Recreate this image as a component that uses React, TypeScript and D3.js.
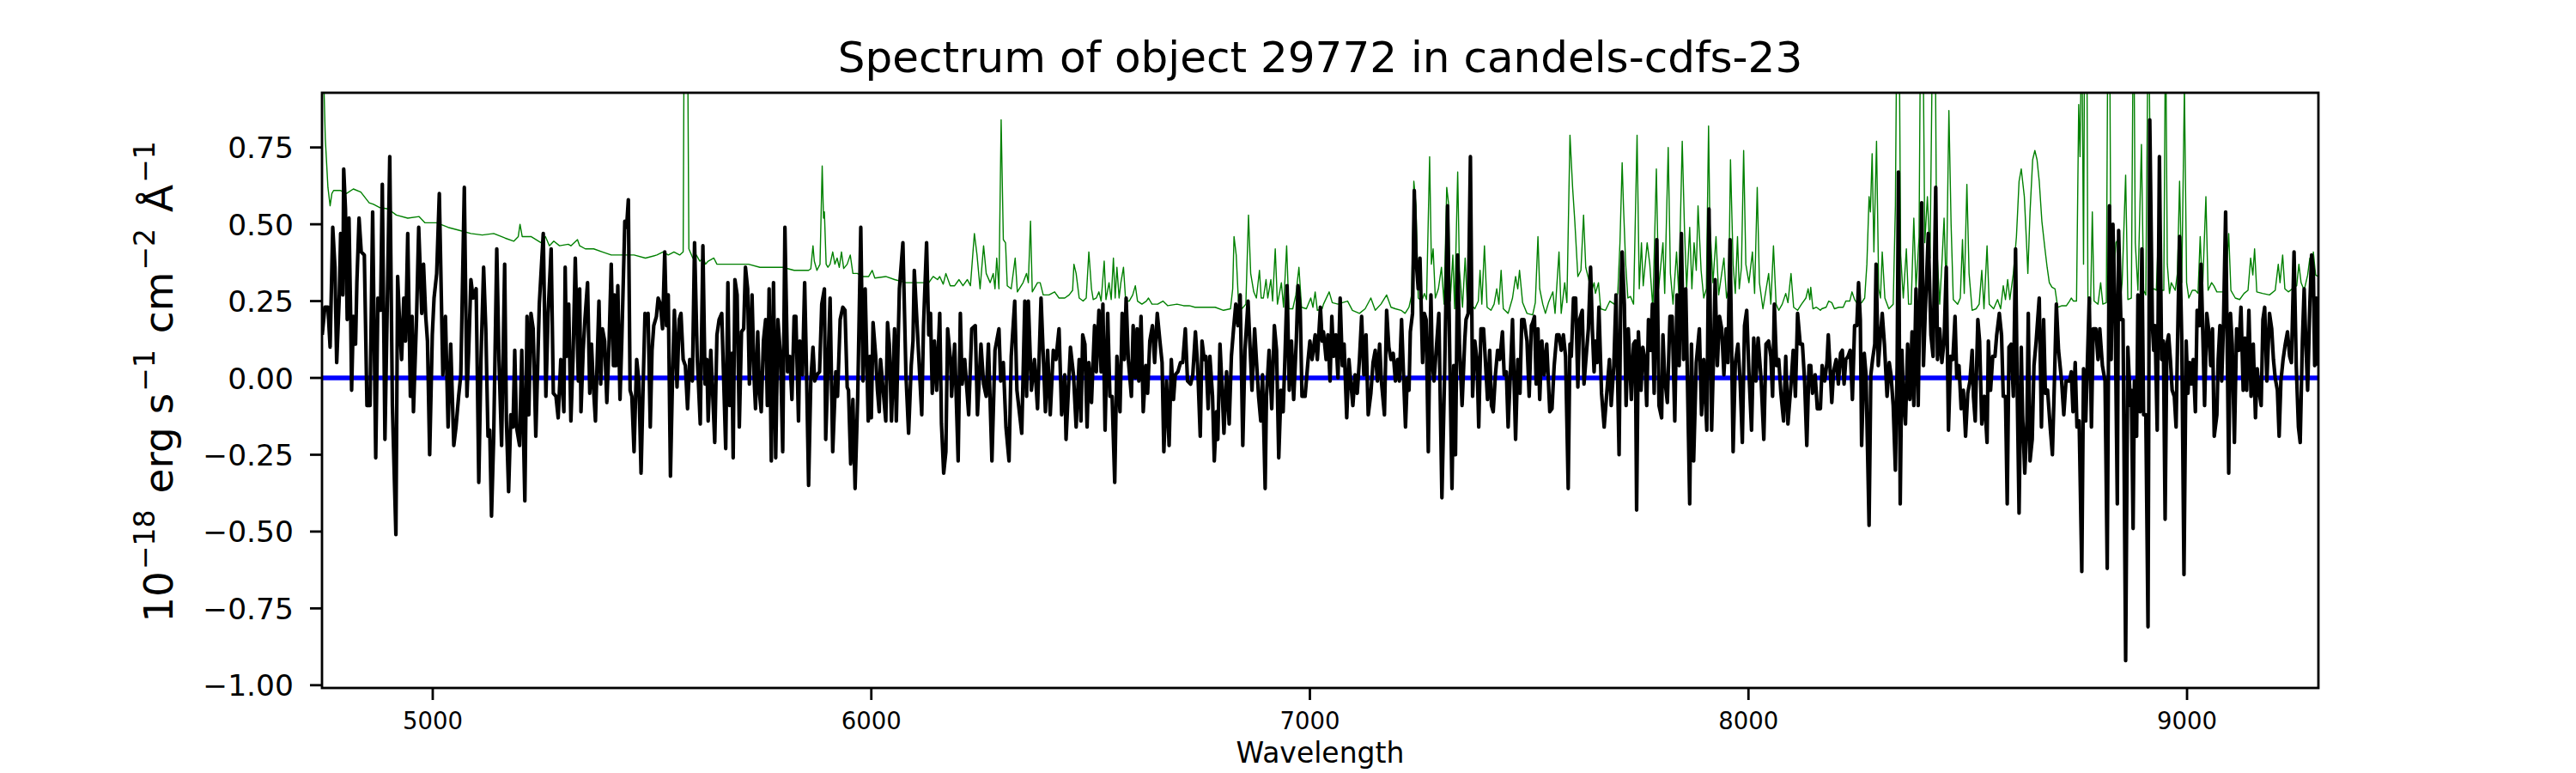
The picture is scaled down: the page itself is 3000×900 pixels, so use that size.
import React from 'react';
import * as d3 from 'd3';

type Pt = [number, number];

const flux4750: Pt[] = [
  [4748, 0.14], [4754, 0.23], [4761, 0.23], [4766, 0.1], [4772, 0.49], [4777, 0.36], [4781, 0.05], [4787, 0.27],
  [4790, 0.47], [4795, 0.27], [4797, 0.68], [4801, 0.55], [4805, 0.19], [4809, 0.52], [4813, 0.19], [4815, -0.04],
  [4819, 0.2], [4824, 0.11], [4827, 0.31], [4832, 0.52], [4837, 0.41], [4844, 0.4], [4850, -0.09], [4857, -0.09],
  [4863, 0.54], [4870, -0.26], [4875, 0.26], [4881, 0.22], [4885, 0.63], [4891, -0.2], [4896, 0.21], [4902, 0.72],
  [4908, -0.09], [4916, -0.51], [4920, 0.33], [4925, 0.16], [4929, 0.06], [4934, 0.26], [4938, 0.12], [4943, 0.47],
  [4949, -0.06], [4953, 0.2], [4956, -0.11], [4963, 0.19], [4968, 0.49], [4975, 0.21], [4979, 0.37], [4984, 0.2],
  [4988, 0.12], [4993, -0.25], [4999, 0.14], [5003, 0.26], [5009, 0.34], [5015, 0.6], [5023, 0.01], [5029, 0.2],
  [5035, -0.16], [5041, 0.11], [5048, -0.22], [5053, -0.16], [5059, -0.06], [5064, 0.01], [5072, 0.62], [5078, -0.06],
  [5082, 0.09], [5087, 0.32], [5092, 0.26], [5099, 0.29], [5105, -0.34], [5110, 0.06], [5116, 0.36], [5121, 0.16],
  [5126, -0.19], [5130, -0.17], [5134, -0.45], [5139, -0.19], [5146, 0.42], [5151, 0.06], [5157, -0.22], [5164, 0.37],
  [5168, -0.14], [5173, -0.37], [5178, -0.12], [5183, -0.16], [5187, 0.09], [5191, -0.16], [5198, -0.22], [5203, 0.09],
  [5210, -0.4], [5215, 0.2], [5219, -0.12], [5224, 0.21], [5229, 0.16], [5235, -0.19], [5243, 0.24], [5252, 0.47],
  [5258, -0.06], [5263, 0.21], [5270, 0.42], [5275, -0.05], [5281, -0.06], [5286, -0.13], [5292, 0.06], [5299, -0.11],
  [5302, 0.36], [5305, 0.07], [5310, 0.24], [5315, -0.14], [5320, 0.07], [5325, 0.39],
];

const flux5330: Pt[] = [
  [5332, -0.01], [5335, 0.29], [5338, -0.11], [5343, 0.09], [5347, 0.19], [5353, 0.31], [5358, -0.05], [5362, 0.11],
  [5366, -0.02], [5371, -0.14], [5375, 0.06], [5379, 0.25], [5383, -0.02], [5387, 0.16], [5392, 0.12], [5397, -0.08],
  [5402, 0.11], [5407, 0.37], [5412, 0.04], [5414, 0.27], [5418, 0.04], [5422, 0.3], [5427, -0.07], [5431, 0.12],
  [5438, 0.51], [5442, 0.49], [5446, 0.58], [5450, -0.04], [5454, -0.06], [5459, -0.24], [5465, 0.06], [5470, -0.01],
  [5475, -0.31], [5480, -0.01], [5484, 0.21], [5488, 0.19], [5491, 0.21], [5496, -0.16], [5500, 0.09], [5504, 0.17],
  [5510, 0.2], [5514, 0.26], [5519, 0.24], [5524, 0.16], [5529, 0.41], [5533, 0.17], [5537, 0.27], [5542, -0.32],
  [5547, 0.02], [5551, 0.22], [5557, -0.03], [5562, 0.19], [5566, 0.21], [5571, 0.06], [5576, 0.04], [5581, -0.1],
  [5586, 0.06], [5592, -0.01], [5597, 0.44], [5603, 0.07], [5610, -0.15], [5616, 0.43], [5621, -0.02], [5625, 0.06],
  [5628, -0.14], [5634, 0.09], [5638, -0.04], [5643, -0.21], [5648, 0.14], [5653, 0.19], [5659, 0.21], [5662, 0.06],
  [5668, -0.23], [5673, 0.31], [5677, -0.09], [5682, 0.08], [5685, -0.26], [5689, 0.32], [5694, 0.27], [5699, -0.16],
  [5704, 0.15], [5709, 0.16], [5713, 0.36], [5718, 0.29], [5722, -0.02], [5728, 0.27], [5733, -0.01], [5736, -0.1],
  [5741, 0.15], [5745, -0.05], [5749, -0.11], [5754, 0.12], [5759, 0.19], [5763, -0.09], [5767, 0.29], [5772, -0.27],
  [5777, 0.31], [5782, -0.26], [5787, 0.19], [5793, 0.07], [5798, -0.24], [5803, 0.49], [5809, 0.02], [5814, 0.07],
  [5819, -0.07], [5824, 0.2], [5828, 0.2], [5834, -0.14], [5837, 0.12], [5843, 0.01], [5848, 0.31], [5852, 0.04],
  [5857, -0.35], [5862, -0.01], [5867, 0.1], [5871, -0.01], [5876, 0.01], [5882, 0.02], [5887, 0.24], [5893, 0.29],
];

const flux5900: Pt[] = [
  [5896, -0.2], [5906, 0.26], [5912, -0.24], [5919, 0.02], [5923, -0.06], [5929, 0.19], [5935, 0.23], [5940, 0.22],
  [5945, -0.03], [5948, -0.04], [5953, -0.28], [5958, -0.07], [5963, -0.36], [5969, -0.06], [5976, 0.49], [5981, -0.01],
  [5986, 0.29], [5993, -0.14], [5997, 0.07], [6000, -0.13], [6004, 0.18], [6010, 0.07], [6014, -0.04], [6018, -0.11],
  [6021, 0.06], [6033, -0.14], [6037, 0.18], [6041, 0.11], [6046, -0.14], [6053, 0.16], [6057, -0.14], [6064, 0.29],
  [6072, 0.44], [6079, 0.01], [6085, -0.18], [6091, 0.04], [6095, 0.12], [6098, 0.35], [6115, -0.12], [6119, 0.17],
  [6126, 0.44], [6131, 0.14], [6135, 0.21], [6139, -0.05], [6144, 0.12], [6149, -0.04], [6156, 0.21], [6160, -0.15],
  [6165, -0.31], [6170, -0.24], [6174, 0.16], [6181, 0.05], [6183, -0.06], [6190, 0.11], [6198, -0.27], [6203, 0.21],
  [6207, -0.02], [6213, 0.06], [6222, -0.12], [6229, 0.16], [6237, 0.17], [6242, -0.12], [6250, 0.11], [6256, -0.02],
  [6262, -0.06], [6267, 0.11], [6275, -0.27], [6282, 0.09], [6291, 0.16], [6295, -0.01], [6301, 0.05], [6307, -0.16],
  [6314, -0.27], [6319, 0.07], [6327, 0.25], [6332, -0.04], [6343, -0.18], [6350, 0.25], [6354, -0.06], [6358, 0.25],
  [6365, -0.04], [6372, 0.06], [6379, -0.1], [6387, 0.26], [6397, -0.11], [6402, 0.09], [6408, -0.12], [6415, 0.09],
  [6421, 0.06], [6428, 0.16], [6434, -0.12], [6441, 0.01], [6444, -0.2], [6454, 0.1], [6461, 0.01],
];

const flux6465: Pt[] = [
  [6467, -0.16], [6474, 0.06], [6478, -0.14], [6482, 0.14], [6487, 0.11], [6492, -0.16], [6496, 0.05], [6502, -0.08],
  [6509, 0.17], [6513, 0.02], [6519, 0.22], [6524, 0.02], [6528, 0.24], [6533, -0.17], [6539, 0.21], [6544, -0.06],
  [6549, -0.06], [6555, -0.34], [6560, 0.07], [6567, -0.11], [6572, 0.21], [6577, 0.06], [6581, 0.26], [6586, 0.06],
  [6593, -0.06], [6597, 0.17], [6602, 0.0], [6606, 0.16], [6610, -0.01], [6615, 0.2], [6620, -0.11], [6626, 0.04],
  [6630, -0.05], [6635, 0.12], [6641, 0.17], [6646, 0.05], [6652, 0.21], [6658, 0.12], [6663, 0.05], [6667, -0.24],
  [6673, -0.01], [6679, -0.22], [6684, 0.06], [6689, -0.07], [6693, 0.01], [6699, 0.02], [6705, 0.05], [6710, 0.05],
  [6716, 0.16], [6721, -0.01], [6728, -0.02], [6733, 0.01], [6739, 0.15], [6744, 0.04], [6750, -0.19], [6754, 0.12],
  [6759, 0.06], [6763, 0.07], [6768, -0.1], [6772, 0.07], [6778, -0.06], [6782, -0.27], [6787, -0.11], [6790, -0.2],
  [6795, 0.11], [6800, -0.04], [6804, -0.18], [6810, 0.02], [6816, -0.15], [6821, 0.07], [6826, 0.16], [6831, 0.24],
  [6836, 0.17], [6841, 0.27], [6847, -0.22], [6852, 0.09], [6859, 0.25], [6863, 0.12], [6868, -0.04], [6874, 0.16],
  [6878, 0.06], [6883, -0.06], [6888, -0.14], [6892, 0.01], [6898, -0.36], [6901, -0.06], [6907, 0.09], [6913, -0.1],
  [6919, 0.17], [6924, 0.09], [6929, -0.26], [6934, -0.04], [6939, -0.11], [6943, 0.06], [6948, 0.3], [6953, -0.04],
  [6958, 0.12], [6963, -0.07], [6969, 0.12], [6973, 0.3], [6978, 0.22], [6982, -0.06], [6989, -0.06], [6996, 0.06],
  [7000, 0.12], [7005, 0.06], [7012, 0.14], [7017, 0.06], [7024, 0.23], [7028, 0.12],
];

const flux7030: Pt[] = [
  [7031, 0.15], [7037, 0.06], [7041, 0.14], [7046, -0.01], [7050, 0.2], [7054, 0.07], [7059, 0.14], [7064, 0.0],
  [7069, 0.26], [7074, 0.04], [7078, 0.11], [7084, -0.13], [7089, 0.06], [7093, -0.01], [7098, -0.09], [7103, 0.01],
  [7108, -0.05], [7113, 0.06], [7118, 0.2], [7123, 0.01], [7128, 0.14], [7133, -0.12], [7139, -0.05], [7144, 0.05],
  [7149, 0.09], [7154, -0.01], [7159, 0.11], [7163, -0.01], [7170, -0.12], [7175, 0.22], [7180, 0.1], [7185, 0.06],
  [7190, 0.08], [7195, -0.01], [7200, 0.06], [7204, -0.01], [7209, 0.19], [7214, -0.01], [7218, -0.16], [7222, 0.0],
  [7226, -0.04], [7229, 0.15], [7234, 0.21], [7238, 0.61], [7242, 0.39], [7247, 0.29], [7251, 0.39], [7257, 0.05],
  [7261, 0.21], [7265, 0.19], [7270, -0.24], [7273, 0.07], [7276, 0.27], [7279, 0.05], [7283, -0.01], [7287, 0.07],
  [7294, 0.21], [7301, -0.39], [7307, 0.0], [7314, 0.56], [7319, 0.06], [7324, -0.36], [7328, 0.04], [7332, -0.25],
  [7337, 0.4], [7341, 0.11], [7347, -0.09], [7353, 0.12], [7356, 0.19], [7361, 0.21], [7366, 0.72], [7371, -0.06],
  [7376, 0.12], [7381, 0.06], [7385, -0.16], [7390, 0.16], [7396, 0.16], [7400, 0.06], [7405, -0.07], [7410, 0.09],
  [7414, -0.09], [7418, -0.11], [7423, 0.01], [7428, 0.09], [7433, 0.06], [7439, 0.15], [7443, 0.01], [7448, 0.02],
  [7452, -0.16], [7457, 0.01], [7462, 0.19], [7469, -0.2], [7474, 0.06], [7479, -0.05], [7483, 0.19], [7488, 0.19],
  [7495, 0.12], [7500, -0.06], [7505, 0.17], [7508, 0.18], [7512, 0.2], [7516, -0.02], [7520, 0.16], [7524, -0.07],
  [7529, 0.12], [7534, 0.01], [7540, 0.11], [7547, -0.11], [7552, -0.1], [7557, 0.04], [7563, 0.14], [7568, 0.14],
  [7573, 0.09], [7578, 0.14], [7583, 0.07], [7589, -0.36], [7593, 0.11], [7596, 0.07],
];

const flux7600: Pt[] = [
  [7601, 0.26], [7606, 0.26], [7611, -0.03], [7615, 0.19], [7621, 0.22], [7625, -0.02], [7631, 0.09], [7635, 0.16],
  [7640, 0.36], [7644, 0.16], [7648, 0.02], [7651, 0.12], [7655, 0.05], [7659, 0.23], [7665, -0.05], [7671, -0.16],
  [7678, -0.03], [7683, 0.06], [7687, -0.09], [7693, 0.04], [7698, 0.27], [7705, -0.25], [7709, 0.29], [7712, 0.41],
  [7717, 0.24], [7721, -0.09], [7726, 0.16], [7733, -0.07], [7738, 0.11], [7742, 0.12], [7745, -0.43], [7749, 0.15],
  [7755, -0.04], [7759, 0.1], [7764, 0.06], [7768, -0.09], [7772, 0.19], [7777, 0.09], [7781, 0.24], [7785, -0.05],
  [7791, 0.45], [7796, -0.09], [7802, -0.13], [7805, 0.14], [7809, 0.0], [7815, -0.08], [7821, 0.2], [7826, 0.2],
  [7832, -0.14], [7837, 0.27], [7842, 0.04], [7847, 0.47], [7852, 0.06], [7857, 0.29], [7860, 0.06], [7866, -0.41],
  [7870, 0.11], [7875, -0.27], [7881, 0.05], [7888, 0.16], [7893, -0.12], [7898, 0.06], [7905, -0.17], [7910, 0.55],
  [7916, -0.17], [7920, 0.05], [7924, 0.32], [7929, 0.04], [7934, 0.2], [7939, 0.16], [7944, 0.01], [7949, 0.16],
  [7953, 0.05], [7958, 0.45], [7965, -0.24], [7970, 0.05], [7976, 0.11], [7981, -0.01], [7986, -0.21], [7991, 0.17],
  [7996, 0.22], [8001, 0.02], [8007, -0.17], [8012, 0.13], [8017, -0.01], [8022, 0.13], [8029, -0.01], [8035, -0.2],
  [8040, 0.11], [8046, 0.12], [8051, 0.07], [8055, -0.06], [8059, 0.24], [8064, 0.04], [8069, 0.06], [8074, -0.05],
  [8080, -0.14], [8085, 0.07], [8090, -0.15], [8097, -0.02], [8102, 0.09], [8107, -0.06], [8112, 0.21], [8118, 0.11],
  [8123, 0.11], [8128, -0.01], [8133, -0.22], [8138, 0.04], [8142, 0.04], [8146, -0.05], [8152, 0.01], [8157, -0.1],
  [8164, -0.1],
];

const flux8165: Pt[] = [
  [8168, 0.04], [8174, -0.01], [8179, 0.05], [8182, 0.14], [8185, 0.06], [8190, -0.08], [8194, 0.02], [8200, 0.06],
  [8205, -0.02], [8210, 0.08], [8214, 0.09], [8218, -0.02], [8222, 0.06], [8227, 0.07], [8232, 0.09], [8237, -0.07],
  [8242, 0.17], [8247, 0.17], [8251, 0.31], [8255, 0.19], [8258, -0.22], [8264, 0.08], [8268, 0.01], [8275, -0.48],
  [8279, 0.01], [8283, 0.06], [8288, 0.11], [8291, 0.37], [8296, 0.04], [8301, 0.14], [8305, 0.21], [8310, 0.11],
  [8316, -0.06], [8321, 0.05], [8325, 0.01], [8330, -0.09], [8335, -0.3], [8339, 0.04], [8342, 0.67], [8346, -0.41],
  [8350, 0.09], [8353, -0.06], [8358, -0.15], [8363, 0.11], [8368, -0.07], [8373, 0.15], [8377, -0.09], [8382, 0.29],
  [8387, -0.09], [8390, 0.19], [8395, 0.57], [8399, 0.04], [8403, 0.21], [8410, 0.47], [8416, 0.14], [8421, 0.07],
  [8427, 0.62], [8431, 0.06], [8436, 0.16], [8441, 0.05], [8446, 0.12], [8451, 0.36], [8456, -0.17], [8461, 0.07],
  [8466, 0.06], [8471, 0.2], [8475, 0.0], [8480, 0.04], [8485, -0.1], [8490, -0.04], [8495, -0.19], [8500, -0.05],
  [8505, -0.01], [8510, 0.09], [8513, -0.06], [8517, -0.14], [8523, 0.19], [8527, 0.12], [8532, -0.15], [8538, -0.06],
  [8544, -0.21], [8547, 0.12], [8552, -0.04], [8557, 0.07], [8562, 0.07], [8566, 0.14], [8572, 0.21], [8577, 0.14],
  [8581, -0.06], [8586, -0.06], [8590, -0.41], [8594, 0.1], [8599, 0.11], [8604, -0.06], [8609, 0.42], [8613, -0.06],
  [8617, -0.44], [8622, 0.1], [8625, -0.12], [8630, -0.31], [8635, -0.14], [8638, 0.21], [8642, -0.27], [8647, -0.2],
  [8651, 0.04], [8656, 0.12], [8663, 0.26], [8668, -0.16], [8673, 0.19], [8677, -0.05], [8682, -0.04], [8688, -0.16],
  [8693, -0.25], [8698, 0.01], [8702, 0.24], [8707, 0.09], [8714, -0.01], [8719, -0.12], [8724, -0.01], [8732, -0.01],
];

const flux8735: Pt[] = [
  [8736, 0.02], [8740, -0.11], [8745, 0.05], [8749, -0.16], [8754, -0.14], [8760, -0.63], [8764, 0.03], [8769, -0.14],
  [8774, 0.11], [8777, 0.26], [8782, -0.16], [8786, 0.16], [8792, 0.16], [8797, 0.06], [8801, 0.16], [8807, 0.04],
  [8813, -0.01], [8818, -0.62], [8823, 0.56], [8827, 0.06], [8831, 0.5], [8836, 0.22], [8841, -0.41], [8844, 0.48],
  [8849, 0.19], [8854, 0.19], [8860, -0.92], [8865, 0.1], [8871, -0.09], [8873, -0.04], [8877, -0.49], [8880, -0.01],
  [8885, -0.19], [8888, 0.27], [8893, -0.11], [8897, 0.42], [8901, -0.12], [8906, -0.12], [8911, -0.81], [8915, 0.84],
  [8921, 0.17], [8924, 0.09], [8927, 0.17], [8932, -0.17], [8937, 0.72], [8942, 0.06], [8946, 0.12], [8950, -0.46],
  [8954, 0.11], [8958, 0.14], [8962, 0.06], [8966, -0.04], [8971, -0.06], [8975, -0.16], [8978, 0.09], [8983, 0.46],
  [8988, 0.12], [8993, -0.64], [8998, 0.12], [9002, -0.05], [9006, 0.05], [9010, -0.02], [9014, 0.06], [9019, -0.11],
  [9023, 0.22], [9028, 0.17], [9032, 0.37], [9036, 0.14], [9040, -0.09], [9045, 0.21], [9049, 0.16], [9054, 0.04],
  [9058, 0.16], [9062, -0.19], [9068, -0.12], [9071, 0.06], [9075, 0.17], [9079, -0.01], [9083, 0.17], [9088, 0.54],
  [9095, -0.31], [9099, 0.21], [9103, 0.11], [9108, -0.21], [9113, 0.16], [9118, 0.09], [9123, 0.23], [9128, -0.04],
  [9132, 0.13], [9136, -0.04], [9141, 0.22], [9146, -0.06], [9151, 0.11], [9156, -0.13], [9160, 0.03], [9164, -0.04],
  [9169, -0.09], [9173, 0.19], [9177, 0.23], [9182, -0.01], [9188, 0.21], [9193, 0.16], [9197, 0.06], [9201, 0.0],
  [9206, -0.04], [9210, -0.19], [9214, -0.01], [9219, 0.06], [9224, 0.11], [9229, 0.15], [9234, 0.07], [9238, 0.05],
  [9244, 0.41], [9249, 0.04], [9254, -0.16], [9258, -0.21], [9263, 0.12], [9267, 0.29], [9271, 0.11], [9275, -0.04],
  [9280, 0.24], [9284, 0.4], [9288, 0.35], [9291, 0.04], [9295, 0.26], [9299, 0.04],
];

// noise / sky spectrum (green)
const noise4750: Pt[] = [
  [4748, 1.5], [4751, 1.0], [4755, 0.78], [4761, 0.62], [4766, 0.56], [4770, 0.6], [4774, 0.61], [4790, 0.61],
  [4803, 0.6], [4819, 0.615], [4836, 0.605], [4855, 0.57], [4865, 0.565], [4878, 0.555], [4898, 0.55], [4917, 0.53],
  [4943, 0.52], [4969, 0.525], [4982, 0.505], [5009, 0.505], [5035, 0.49], [5061, 0.48], [5087, 0.47], [5113, 0.465],
  [5139, 0.47], [5165, 0.455], [5185, 0.445], [5195, 0.46], [5199, 0.5], [5204, 0.46], [5224, 0.46], [5247, 0.44],
  [5257, 0.46], [5266, 0.43], [5276, 0.445], [5289, 0.43], [5309, 0.435],
];

const noise5315: Pt[] = [
  [5315, 0.43], [5330, 0.45], [5335, 0.43], [5348, 0.42], [5367, 0.42], [5387, 0.41], [5407, 0.4], [5433, 0.4],
  [5459, 0.4], [5485, 0.39], [5511, 0.4], [5525, 0.41], [5537, 0.4], [5550, 0.41], [5563, 0.4], [5571, 0.41],
  [5574, 1.4], [5580, 1.4], [5584, 0.42], [5593, 0.39], [5601, 0.4], [5609, 0.38], [5617, 0.39], [5622, 0.37],
  [5628, 0.38], [5641, 0.39], [5648, 0.37], [5668, 0.37], [5694, 0.37], [5720, 0.37], [5746, 0.36], [5772, 0.36],
  [5798, 0.36], [5824, 0.35], [5857, 0.35], [5862, 0.355], [5867, 0.43], [5870, 0.38], [5876, 0.35], [5883, 0.37],
  [5888, 0.69], [5891, 0.52],
];

const noise5893: Pt[] = [
  [5893, 0.54], [5897, 0.37], [5901, 0.36], [5906, 0.37], [5912, 0.41], [5917, 0.37], [5922, 0.39], [5927, 0.36],
  [5932, 0.41], [5937, 0.356], [5945, 0.37], [5952, 0.4], [5958, 0.34], [5968, 0.34], [5981, 0.33], [5994, 0.33],
  [6002, 0.35], [6008, 0.325], [6033, 0.33], [6053, 0.32], [6079, 0.31], [6105, 0.31], [6131, 0.31], [6141, 0.33],
  [6151, 0.32], [6156, 0.33], [6164, 0.305], [6170, 0.34], [6180, 0.3], [6190, 0.3], [6200, 0.32], [6209, 0.3],
  [6219, 0.32], [6226, 0.3], [6235, 0.47], [6241, 0.4], [6248, 0.29], [6256, 0.43], [6262, 0.34], [6271, 0.31],
  [6278, 0.34], [6282, 0.29], [6286, 0.39], [6291, 0.29], [6296, 0.84], [6301, 0.45], [6306, 0.44], [6310, 0.3],
  [6319, 0.29], [6328, 0.39], [6333, 0.28], [6346, 0.31], [6354, 0.34], [6358, 0.31], [6363, 0.51], [6367, 0.28],
  [6379, 0.31], [6385, 0.31], [6392, 0.27], [6405, 0.27], [6418, 0.28], [6428, 0.26], [6441, 0.26], [6451, 0.27],
];

const noise6459: Pt[] = [
  [6459, 0.285], [6462, 0.37], [6467, 0.34], [6474, 0.26], [6483, 0.25], [6490, 0.26], [6496, 0.41], [6502, 0.29],
  [6506, 0.255], [6513, 0.26], [6519, 0.28], [6524, 0.25], [6531, 0.38], [6535, 0.255], [6542, 0.31], [6547, 0.255],
  [6552, 0.39], [6556, 0.26], [6560, 0.36], [6565, 0.26], [6569, 0.31], [6575, 0.36], [6580, 0.25], [6588, 0.25],
  [6596, 0.27], [6602, 0.3], [6607, 0.25], [6617, 0.24], [6627, 0.25], [6632, 0.26], [6640, 0.24], [6653, 0.24],
  [6665, 0.25], [6676, 0.235], [6697, 0.24], [6712, 0.235], [6725, 0.235], [6738, 0.23], [6757, 0.23], [6784, 0.23],
  [6803, 0.22], [6819, 0.225], [6824, 0.29], [6827, 0.46], [6832, 0.4], [6837, 0.25], [6845, 0.225], [6854, 0.24],
  [6860, 0.53], [6865, 0.34], [6872, 0.28], [6878, 0.26], [6885, 0.35], [6889, 0.26], [6894, 0.26], [6900, 0.32],
  [6904, 0.26], [6911, 0.32], [6915, 0.25], [6921, 0.42], [6926, 0.24], [6935, 0.31], [6940, 0.23], [6947, 0.43],
  [6952, 0.225], [6961, 0.225], [6968, 0.27], [6975, 0.36], [6981, 0.23], [6992, 0.225], [7002, 0.26], [7007, 0.23],
  [7012, 0.28], [7017, 0.22], [7028, 0.225],
];

const noise7031: Pt[] = [
  [7031, 0.24], [7044, 0.28], [7051, 0.245], [7064, 0.24], [7074, 0.245], [7086, 0.25], [7097, 0.22], [7113, 0.21],
  [7126, 0.225], [7139, 0.26], [7149, 0.22], [7162, 0.24], [7175, 0.27], [7185, 0.23], [7195, 0.225], [7208, 0.22],
  [7217, 0.21], [7226, 0.23], [7232, 0.27], [7237, 0.64], [7242, 0.56], [7247, 0.26], [7255, 0.25], [7261, 0.275],
  [7266, 0.255], [7273, 0.72], [7277, 0.37], [7281, 0.42], [7286, 0.26], [7293, 0.29], [7300, 0.36], [7306, 0.24],
  [7312, 0.62], [7316, 0.57], [7320, 0.25], [7326, 0.4], [7330, 0.225], [7337, 0.67], [7341, 0.35], [7348, 0.23],
  [7354, 0.39], [7359, 0.24], [7367, 0.24], [7376, 0.225], [7384, 0.25], [7388, 0.35], [7392, 0.24], [7398, 0.43],
  [7404, 0.23], [7413, 0.22], [7420, 0.24], [7426, 0.29], [7431, 0.24], [7436, 0.35], [7441, 0.225], [7452, 0.21],
  [7462, 0.26], [7469, 0.33], [7474, 0.29], [7478, 0.35], [7485, 0.245], [7495, 0.21], [7508, 0.205], [7514, 0.245],
  [7520, 0.46], [7524, 0.29], [7531, 0.24], [7537, 0.21], [7544, 0.245], [7554, 0.28], [7559, 0.21], [7568, 0.41],
  [7573, 0.21], [7581, 0.31], [7586, 0.245], [7593, 0.79], [7599, 0.62],
];

const noise7604: Pt[] = [
  [7604, 0.51], [7611, 0.33], [7618, 0.35], [7624, 0.53], [7629, 0.36], [7635, 0.325], [7642, 0.28], [7648, 0.31],
  [7651, 0.275], [7658, 0.31], [7663, 0.225], [7674, 0.22], [7684, 0.25], [7694, 0.24], [7702, 0.275], [7707, 0.44],
  [7712, 0.7], [7715, 0.56], [7720, 0.37], [7725, 0.26], [7731, 0.265], [7738, 0.24], [7746, 0.79], [7751, 0.29],
  [7756, 0.44], [7760, 0.3], [7769, 0.44], [7775, 0.37], [7782, 0.225], [7790, 0.68], [7795, 0.29], [7805, 0.44],
  [7809, 0.275], [7817, 0.75], [7822, 0.34], [7828, 0.24], [7836, 0.41], [7841, 0.275], [7849, 0.77], [7854, 0.49],
  [7859, 0.29], [7866, 0.49], [7871, 0.29], [7876, 0.44], [7881, 0.35], [7885, 0.56], [7892, 0.35], [7898, 0.26],
  [7904, 0.29], [7909, 0.82], [7912, 0.5], [7919, 0.31], [7926, 0.46], [7932, 0.27], [7939, 0.34], [7944, 0.39],
  [7950, 0.26], [7955, 0.29], [7959, 0.71], [7965, 0.37], [7970, 0.275], [7975, 0.46], [7979, 0.29], [7984, 0.36],
  [7989, 0.74], [7994, 0.37], [8001, 0.31], [8009, 0.41], [8014, 0.275], [8020, 0.62], [8025, 0.31], [8033, 0.225],
  [8046, 0.34], [8051, 0.24], [8057, 0.43], [8063, 0.24], [8069, 0.22], [8077, 0.24], [8085, 0.275], [8090, 0.245],
  [8097, 0.34], [8103, 0.23], [8112, 0.22], [8121, 0.24], [8131, 0.26], [8136, 0.29], [8140, 0.255], [8142, 0.295],
  [8147, 0.225], [8155, 0.23], [8164, 0.22],
];

const noise8167: Pt[] = [
  [8167, 0.225], [8177, 0.23], [8183, 0.25], [8190, 0.245], [8196, 0.225], [8206, 0.23], [8216, 0.23], [8222, 0.25],
  [8231, 0.25], [8236, 0.28], [8242, 0.255], [8249, 0.24], [8258, 0.245], [8265, 0.26], [8270, 0.37], [8275, 0.59],
  [8278, 0.54], [8282, 0.73], [8286, 0.41], [8292, 0.77], [8297, 0.29], [8301, 0.26], [8305, 0.41], [8311, 0.26],
  [8320, 0.225], [8330, 0.24], [8335, 0.56], [8339, 1.3], [8343, 1.3], [8347, 0.4], [8353, 0.26], [8360, 0.42],
  [8365, 0.24], [8371, 0.24], [8377, 0.52], [8382, 0.29], [8389, 0.46], [8393, 1.3], [8397, 1.3], [8402, 0.44],
  [8408, 0.59], [8414, 0.39], [8421, 1.3], [8425, 1.3], [8429, 0.44], [8436, 0.24], [8441, 0.37], [8446, 0.52],
  [8451, 0.275], [8457, 0.87], [8462, 0.5], [8467, 0.255], [8477, 0.24], [8483, 0.26], [8488, 0.45], [8492, 0.275],
  [8498, 0.63], [8503, 0.34], [8510, 0.22], [8519, 0.225], [8526, 0.24], [8532, 0.35], [8537, 0.225], [8544, 0.43],
  [8549, 0.24], [8559, 0.225], [8568, 0.255], [8575, 0.225], [8581, 0.3], [8586, 0.255], [8591, 0.32], [8596, 0.255],
  [8604, 0.34], [8611, 0.46], [8617, 0.64], [8622, 0.68], [8629, 0.59], [8634, 0.44], [8637, 0.34], [8642, 0.54],
  [8648, 0.71], [8653, 0.74], [8658, 0.71], [8663, 0.64], [8669, 0.51], [8676, 0.42], [8681, 0.36], [8686, 0.31],
  [8692, 0.295], [8699, 0.29], [8705, 0.23], [8715, 0.235], [8725, 0.235],
];

const noise8732: Pt[] = [
  [8732, 0.25], [8736, 0.26], [8741, 0.25], [8748, 0.25], [8753, 0.89], [8756, 0.72], [8760, 1.2], [8764, 0.37],
  [8767, 1.3], [8771, 1.3], [8774, 0.26], [8780, 0.24], [8784, 0.54], [8788, 0.25], [8797, 0.24], [8803, 0.31],
  [8808, 0.24], [8816, 0.245], [8820, 1.3], [8823, 1.3], [8826, 0.45], [8831, 0.31], [8838, 0.44], [8842, 0.45],
  [8847, 0.24], [8852, 0.31], [8860, 0.66], [8865, 0.255], [8873, 0.26], [8878, 1.3], [8882, 0.44], [8888, 0.285],
  [8896, 0.76], [8901, 0.285], [8906, 0.27], [8912, 1.3], [8915, 0.82], [8921, 0.285], [8925, 0.29], [8930, 0.285],
  [8937, 0.56], [8942, 0.285], [8947, 0.285], [8951, 1.2], [8955, 0.37], [8960, 0.275], [8964, 0.31], [8973, 0.285],
  [8978, 0.34], [8983, 0.64], [8988, 0.31], [8994, 0.95], [8999, 0.31], [9004, 0.26], [9012, 0.285], [9019, 0.285],
  [9025, 0.275], [9030, 0.46], [9035, 0.275], [9043, 0.59], [9048, 0.285], [9056, 0.31], [9061, 0.3], [9068, 0.28],
  [9077, 0.28], [9087, 0.28], [9095, 0.47], [9100, 0.285], [9110, 0.26], [9120, 0.255], [9130, 0.275], [9139, 0.285],
  [9145, 0.39], [9150, 0.335], [9154, 0.42], [9159, 0.28], [9172, 0.275], [9188, 0.27], [9201, 0.285], [9208, 0.37],
  [9212, 0.31], [9218, 0.4], [9223, 0.29], [9231, 0.28], [9240, 0.29], [9250, 0.3], [9255, 0.37], [9260, 0.31],
  [9267, 0.285], [9275, 0.335], [9280, 0.39], [9284, 0.3], [9288, 0.41], [9293, 0.335], [9299, 0.33],
];

const zeroLevel: Pt[] = [[4747.5, 0], [9299.5, 0]];

const waveTicks = [5000, 6000, 7000, 8000, 9000];
const fluxTicks = [-1.0, -0.75, -0.5, -0.25, 0.0, 0.25, 0.5, 0.75];
const waveLimits: [number, number] = [4747.5, 9299.5];
const fluxLimits: [number, number] = [-1.009, 0.928];

const titleText = 'Spectrum of object 29772 in candels-cdfs-23';
const xLabelText = 'Wavelength';

const WIDTH = 3000;
const HEIGHT = 900;
const plot = { left: 375, right: 2700, top: 108, bottom: 801 };
const FONT = '"DejaVu Sans", Verdana, sans-serif';

export default function App() {
  const x = d3.scaleLinear().domain(waveLimits).range([plot.left, plot.right]);
  const y = d3.scaleLinear().domain(fluxLimits).range([plot.bottom, plot.top]);
  const line = d3.line<Pt>().x((d) => x(d[0])).y((d) => y(d[1]));

  const flux = [...flux4750, ...flux5330, ...flux5900, ...flux6465, ...flux7030, ...flux7600, ...flux8165, ...flux8735];
  const noise = [
    ...noise4750, ...noise5315, ...noise5893, ...noise6459, ...noise7031, ...noise7604, ...noise8167, ...noise8732,
  ];

  const fmtY = d3.format('.2f');
  const midX = (plot.left + plot.right) / 2;
  const labelY = (plot.top + plot.bottom) / 2 - 10;
  const sup = 33;
  const raise = 21;

  return (
    <svg
      width={WIDTH}
      height={HEIGHT}
      style={{ position: 'absolute', left: 0, top: 0, background: '#fff' }}
      fontFamily={FONT}
    >
      <rect width={WIDTH} height={HEIGHT} fill="#fff" />
      <defs>
        <clipPath id="plot-area">
          <rect x={plot.left} y={plot.top} width={plot.right - plot.left} height={plot.bottom - plot.top} />
        </clipPath>
      </defs>

      <g clipPath="url(#plot-area)" fill="none">
        <path d={line(noise) ?? ''} stroke="#008000" strokeWidth={1.4} strokeLinejoin="round" />
        <path d={line(zeroLevel) ?? ''} stroke="#0000ff" strokeWidth={5.5} />
        <path d={line(flux) ?? ''} stroke="#000" strokeWidth={4.2} strokeLinejoin="round" />
      </g>

      {/* frame */}
      <rect
        x={plot.left}
        y={plot.top}
        width={plot.right - plot.left}
        height={plot.bottom - plot.top}
        fill="none"
        stroke="#000"
        strokeWidth={2.8}
      />

      {/* x ticks */}
      {waveTicks.map((t) => (
        <g key={t}>
          <line x1={x(t)} x2={x(t)} y1={plot.bottom} y2={plot.bottom + 14} stroke="#000" strokeWidth={2.8} />
          <text x={x(t)} y={849} fontSize={27.5} textAnchor="middle">
            {t}
          </text>
        </g>
      ))}

      {/* y ticks */}
      {fluxTicks.map((t) => (
        <g key={t}>
          <line x1={plot.left - 14} x2={plot.left} y1={y(t)} y2={y(t)} stroke="#000" strokeWidth={2.8} />
          <text x={342} y={y(t) + 12.6} fontSize={34.5} textAnchor="end">
            {fmtY(t)}
          </text>
        </g>
      ))}

      <text x={midX} y={84} fontSize={50} textAnchor="middle">
        {titleText}
      </text>

      <text x={midX} y={888} fontSize={33} textAnchor="middle">
        {xLabelText}
      </text>

      <text
        transform={`translate(201, ${labelY}) rotate(-90)`}
        fontSize={47}
        textAnchor="middle"
        style={{ whiteSpace: 'pre' }}
      >
        <tspan>10</tspan>
        <tspan dy={-raise} dx={2} fontSize={sup}>−18</tspan>
        <tspan dy={raise} dx={4}> erg s</tspan>
        <tspan dy={-raise} dx={2} fontSize={sup}>−1</tspan>
        <tspan dy={raise} dx={4}> cm</tspan>
        <tspan dy={-raise} dx={2} fontSize={sup}>−2</tspan>
        <tspan dy={raise} dx={4}> Å</tspan>
        <tspan dy={-raise} dx={2} fontSize={sup}>−1</tspan>
      </text>
    </svg>
  );
}
